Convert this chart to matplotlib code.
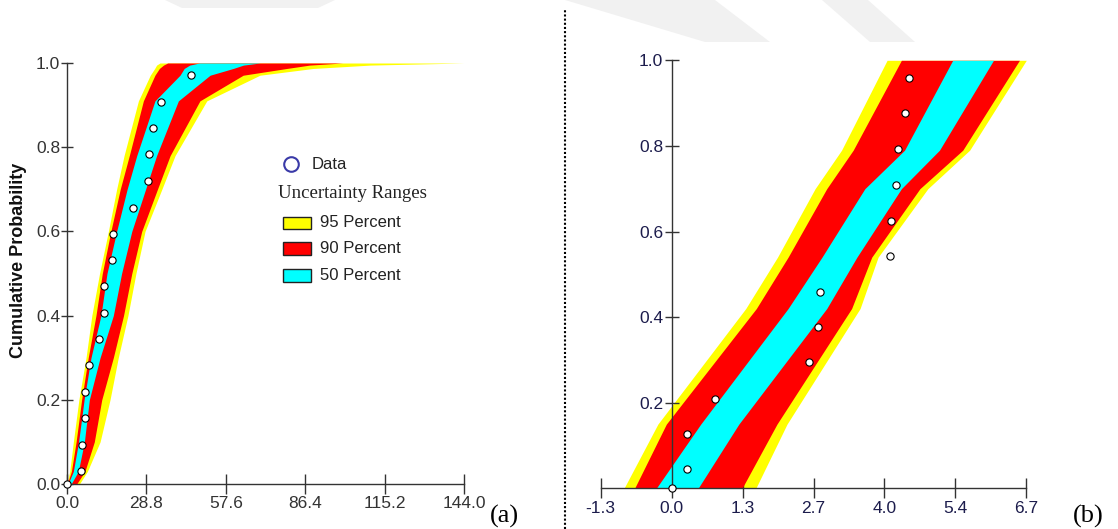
import numpy as np
import matplotlib.pyplot as plt
from matplotlib.patches import Rectangle, Polygon
from matplotlib.lines import Line2D

# ---- (a) left panel: data points and uncertainty band edges ----
a_data_x = [0.0, 5.0, 5.3, 6.4, 6.5, 8.0, 11.5, 13.5, 13.3, 16.2, 16.8, 24.0, 29.4, 29.6, 31.3, 34.2, 44.9]
a_data_y = [0.0, 0.031, 0.093, 0.156, 0.219, 0.282, 0.344, 0.405, 0.470, 0.532, 0.595, 0.656, 0.720, 0.783, 0.845, 0.907, 0.971]

a_band_y = [0.0, 0.03, 0.1, 0.2, 0.3, 0.4, 0.5, 0.6, 0.7, 0.78, 0.91, 0.971, 0.987, 0.995, 1.0]
a_y95_lo = [0.0, 1.0, 2.3, 4.3, 6.9, 9.0, 11.8, 15.0, 18.0, 20.7, 25.9, 30.2, 31.8, 32.5, 33.7]
a_r90_lo = [0.1, 1.6, 3.3, 5.3, 7.7, 10.5, 12.8, 15.9, 19.3, 22.6, 27.7, 31.9, 33.5, 35.0, 36.5]
a_c50_lo = [0.4, 2.3, 4.2, 6.2, 8.7, 12.3, 14.5, 18.0, 21.8, 25.3, 31.9, 41.0, 42.5, 44.5, 48.0]
a_c50_hi = [1.5, 4.1, 6.3, 8.1, 12.0, 16.8, 19.8, 23.5, 28.5, 32.5, 40.4, 51.9, 60.3, 64.0, 70.0]
a_r90_hi = [3.5, 6.5, 9.9, 12.6, 16.8, 20.5, 23.5, 27.1, 32.8, 37.4, 48.2, 63.9, 79.7, 88.0, 100.0]
a_y95_hi = [4.5, 7.4, 12.0, 15.6, 18.6, 22.1, 25.0, 28.3, 34.4, 39.2, 50.7, 70.0, 89.3, 110.0, 144.0]

a_xticks = [0.0, 28.8, 57.6, 86.4, 115.2, 144.0]
a_xlabels = ['0.0', '28.8', '57.6', '86.4', '115.2', '144.0']
a_yticks = [0.0, 0.2, 0.4, 0.6, 0.8, 1.0]
a_ylabels = ['0.0', '0.2', '0.4', '0.6', '0.8', '1.0']

# ---- (b) right panel ----
b_data_x = [0.0, 0.29, 0.29, 0.82, 2.59, 2.77, 2.81, 4.13, 4.14, 4.24, 4.27, 4.41, 4.49]
b_data_y = [0.0, 0.044, 0.128, 0.209, 0.294, 0.377, 0.458, 0.542, 0.625, 0.708, 0.792, 0.876, 0.958]

b_band_y = [0.0, 0.15, 0.42, 0.54, 0.70, 0.79, 1.0]
b_y95_lo = [-0.90, -0.26, 1.40, 2.00, 2.71, 3.21, 4.07]
b_r90_lo = [-0.70, -0.10, 1.60, 2.20, 2.93, 3.43, 4.34]
b_c50_lo = [-0.29, 0.55, 2.20, 2.84, 3.65, 4.40, 5.31]
b_c50_hi = [0.50, 1.27, 2.93, 3.50, 4.34, 5.06, 6.08]
b_r90_hi = [1.33, 1.99, 3.40, 3.78, 4.69, 5.50, 6.57]
b_y95_hi = [1.59, 2.18, 3.56, 3.90, 4.84, 5.63, 6.70]

b_xticks = [-1.34, 0.0, 1.34, 2.68, 4.02, 5.36, 6.7]
b_xlabels = ['-1.3', '0.0', '1.3', '2.7', '4.0', '5.4', '6.7']
b_yticks = [0.2, 0.4, 0.6, 0.8, 1.0]
b_ylabels = ['0.2', '0.4', '0.6', '0.8', '1.0']

YEL, RED, CYA = '#ffff00', '#ff0000', '#00ffff'
TICKFONT = ['Liberation Sans Narrow', 'Liberation Sans']

W, H = 1118, 529
fig = plt.figure(figsize=(W / 100, H / 100), dpi=100)


def draw_bands(ax, y, y95lo, r90lo, c50lo, c50hi, r90hi, y95hi):
    ax.fill_betweenx(y, y95lo, y95hi, color=YEL, lw=0, zorder=1)
    ax.fill_betweenx(y, r90lo, r90hi, color=RED, lw=0, zorder=2)
    ax.fill_betweenx(y, c50lo, c50hi, color=CYA, lw=0, zorder=3)


def style_axes(ax, xt, xl, yt, yl, lab_color, ylen):
    for s in ['top', 'right']:
        ax.spines[s].set_visible(False)
    for s in ['left', 'bottom']:
        ax.spines[s].set_linewidth(1.0)
        ax.spines[s].set_color('#333333')
        ax.spines[s].set_zorder(5)
    ax.set_xticks(xt)
    ax.set_xticklabels(xl)
    ax.set_yticks(yt)
    ax.set_yticklabels(yl)
    ax.tick_params(axis='x', direction='inout', length=14, width=1.0, color='#333333', pad=2,
                   labelsize=12.5, labelcolor=lab_color)
    ax.tick_params(axis='y', direction='inout', length=ylen, width=1.0, color='#333333', pad=1,
                   labelsize=12.5, labelcolor=lab_color)
    for t in ax.get_xticklabels() + ax.get_yticklabels():
        t.set_family(TICKFONT)
    ax.patch.set_alpha(0)


# faint grey watermark pieces at the top of the page
wm = '#f1f1f1'
for pts in [[(165, 0), (335, 0), (318, 8), (182, 8)],
            [(565, 0), (715, 0), (770, 42), (705, 42)],
            [(822, 0), (868, 0), (915, 42), (870, 42)]]:
    fig.patches.append(Polygon([(x / W, 1 - y / H) for x, y in pts], closed=True,
                               transform=fig.transFigure, color=wm, lw=0, zorder=0))

# ---------------- (a) ----------------
ax1 = fig.add_axes([67 / W, 45 / H, 397 / W, 421 / H])
draw_bands(ax1, a_band_y, a_y95_lo, a_r90_lo, a_c50_lo, a_c50_hi, a_r90_hi, a_y95_hi)
ax1.plot(a_data_x, a_data_y, 'o', ms=5.2, mfc='white', mec='black', mew=0.8, zorder=6, clip_on=False)
ax1.set_xlim(0, 144)
ax1.set_ylim(0, 1)
style_axes(ax1, a_xticks, a_xlabels, a_yticks, a_ylabels, '#333333', 8)

# legend drawn by hand (axes fraction)
ax1.plot([0.5635], [0.760], 'o', ms=10.5, mfc='none', mec='#3a3aa8', mew=1.5,
         transform=ax1.transAxes, clip_on=False)
ax1.text(0.6164, 0.760, 'Data', transform=ax1.transAxes, fontsize=12, va='center',
         family='Liberation Sans', color='#222222')
ax1.text(0.5322, 0.6905, 'Uncertainty Ranges', transform=ax1.transAxes, fontsize=13.5,
         va='center', family='Liberation Serif', color='#222222')
for col, yb, yc, lab in [(YEL, 0.605, 0.6207, '95 Percent'),
                         (RED, 0.544, 0.5587, '90 Percent'),
                         (CYA, 0.4805, 0.4952, '50 Percent')]:
    ax1.add_patch(Rectangle((0.5433, yb), 0.0705, 0.0299, transform=ax1.transAxes,
                            facecolor=col, edgecolor='#222222', lw=1.0, clip_on=False))
    ax1.text(0.637, yc, lab, transform=ax1.transAxes, fontsize=12, va='center',
             family='Liberation Sans', color='#222222')

fig.text(19 / W, 1 - 260 / H, 'Cumulative Probability', rotation=90, fontsize=13,
         fontweight='bold', family='Liberation Sans', ha='center', va='center', color='#111111')

# ---------------- (b) ----------------
ax2 = fig.add_axes([600.7 / W, 40.7 / H, 425.6 / W, 428 / H])
draw_bands(ax2, b_band_y, b_y95_lo, b_r90_lo, b_c50_lo, b_c50_hi, b_r90_hi, b_y95_hi)
ax2.plot(b_data_x, b_data_y, 'o', ms=5.2, mfc='white', mec='black', mew=0.8, zorder=6, clip_on=False)
ax2.set_xlim(-1.34, 6.7)
ax2.set_ylim(0, 1)
ax2.spines['left'].set_position(('data', 0))
style_axes(ax2, b_xticks, b_xlabels, b_yticks, b_ylabels, '#1c1c4c', 10)

# panel labels and the dotted separator
fig.text(490 / W, 1 - 516 / H, '(a)', fontsize=19, family='Liberation Serif', va='center')
fig.text(1073 / W, 1 - 516 / H, '(b)', fontsize=19, family='Liberation Serif', va='center')
fig.add_artist(Line2D([565 / W, 565 / W], [0, 1 - 10 / H], transform=fig.transFigure,
                      color='black', lw=1.5, linestyle=(0, (1, 1))))

plt.savefig('out.png', dpi=100)
